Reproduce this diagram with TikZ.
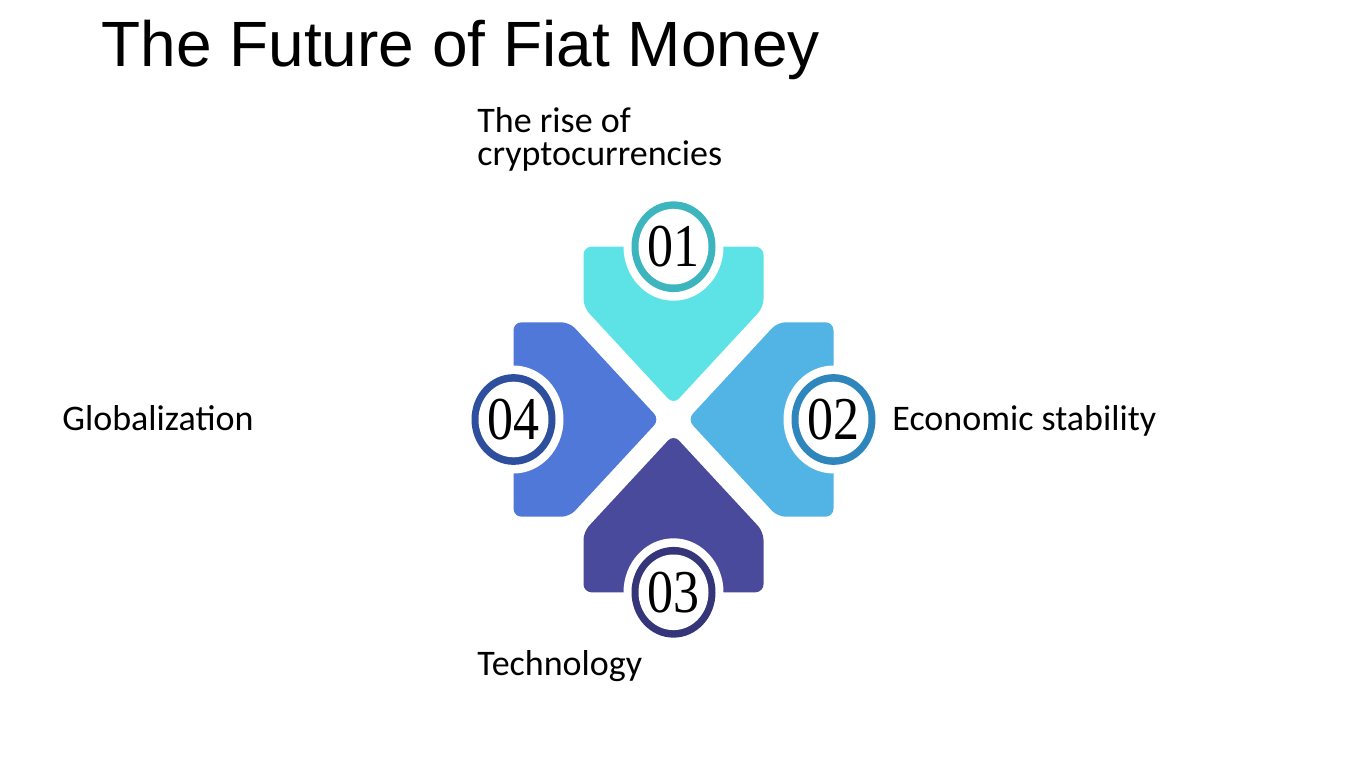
\documentclass[tikz,border=0pt]{standalone}
\usepackage{fontspec}
\setmainfont{Liberation Serif}
\newfontfamily\titlefont{Liberation Sans}
\newfontfamily\labelfont{Carlito}
\newfontfamily\numfont{Liberation Serif}
\definecolor{armA}{HTML}{5DE3E6}
\definecolor{ringA}{HTML}{3DB5BE}
\definecolor{armB}{HTML}{52B3E5}
\definecolor{ringB}{HTML}{2F86BD}
\definecolor{armC}{HTML}{4A4A9C}
\definecolor{ringC}{HTML}{35357A}
\definecolor{armD}{HTML}{4F78D9}
\definecolor{ringD}{HTML}{2D4F9E}
\tikzset{
  arm/.style={rounded corners=4},
  lbl/.style={font=\labelfont\fontsize{18}{16.5}\selectfont, inner sep=0pt, anchor=base west, align=left},
  numtxt/.style={font=\numfont\fontsize{26}{26}\selectfont, inner sep=0pt},
}
\begin{document}
\begin{tikzpicture}[x=0.5pt,y=-0.5pt]
\useasboundingbox[fill=white] (0,0) rectangle (1350,759);
\node[font=\titlefont\fontsize{32}{32}\selectfont, inner sep=0pt, anchor=base west] (title) at (101,67) {The Future of Fiat Money};
\begin{scope}[shift={(673.5,419.5)}, yscale=-1.08]
  % arms
  \fill[armA, arm] (-90,160) -- (90,160) -- (90,104) -- (0,14) -- (-90,104) -- cycle;
  \fill[armB, arm] (160,90) -- (160,-90) -- (104,-90) -- (14,0) -- (104,90) -- cycle;
  \fill[armC, arm] (-90,-160) -- (90,-160) -- (90,-104) -- (0,-14) -- (-90,-104) -- cycle;
  \fill[armD, arm] (-160,90) -- (-160,-90) -- (-104,-90) -- (-14,0) -- (-104,90) -- cycle;
  % notches
  \foreach \p in {(0,160),(160,0),(0,-160),(-160,0)}
    \fill[white] \p circle[radius=50];
  % rings
  \fill[ringA] (0,160) circle[radius=42];
  \fill[ringB] (160,0) circle[radius=42];
  \fill[ringC] (0,-160) circle[radius=42];
  \fill[ringD] (-160,0) circle[radius=42];
  \foreach \p in {(0,160),(160,0),(0,-160),(-160,0)}
    \fill[white] \p circle[radius=35];
  \coordinate (c1) at (0,160);
  \coordinate (c2) at (160,0);
  \coordinate (c3) at (0,-160);
  \coordinate (c4) at (-160,0);
\end{scope}
\node[numtxt] (n1) at (c1) {\scalebox{1}[1.17]{01}};
\node[numtxt] (n2) at (c2) {\scalebox{1}[1.17]{02}};
\node[numtxt] (n3) at (c3) {\scalebox{1}[1.17]{03}};
\node[numtxt] (n4) at (c4) {\scalebox{1}[1.17]{04}};
\node[lbl] (l1) at (477,166) {The rise of\\cryptocurrencies};
\node[lbl] (l2) at (892,430) {Economic stability};
\node[lbl] (l3) at (477,675) {Technology};
\node[lbl] (l4) at (62,430) {Globalization};
\end{tikzpicture}
\end{document}
